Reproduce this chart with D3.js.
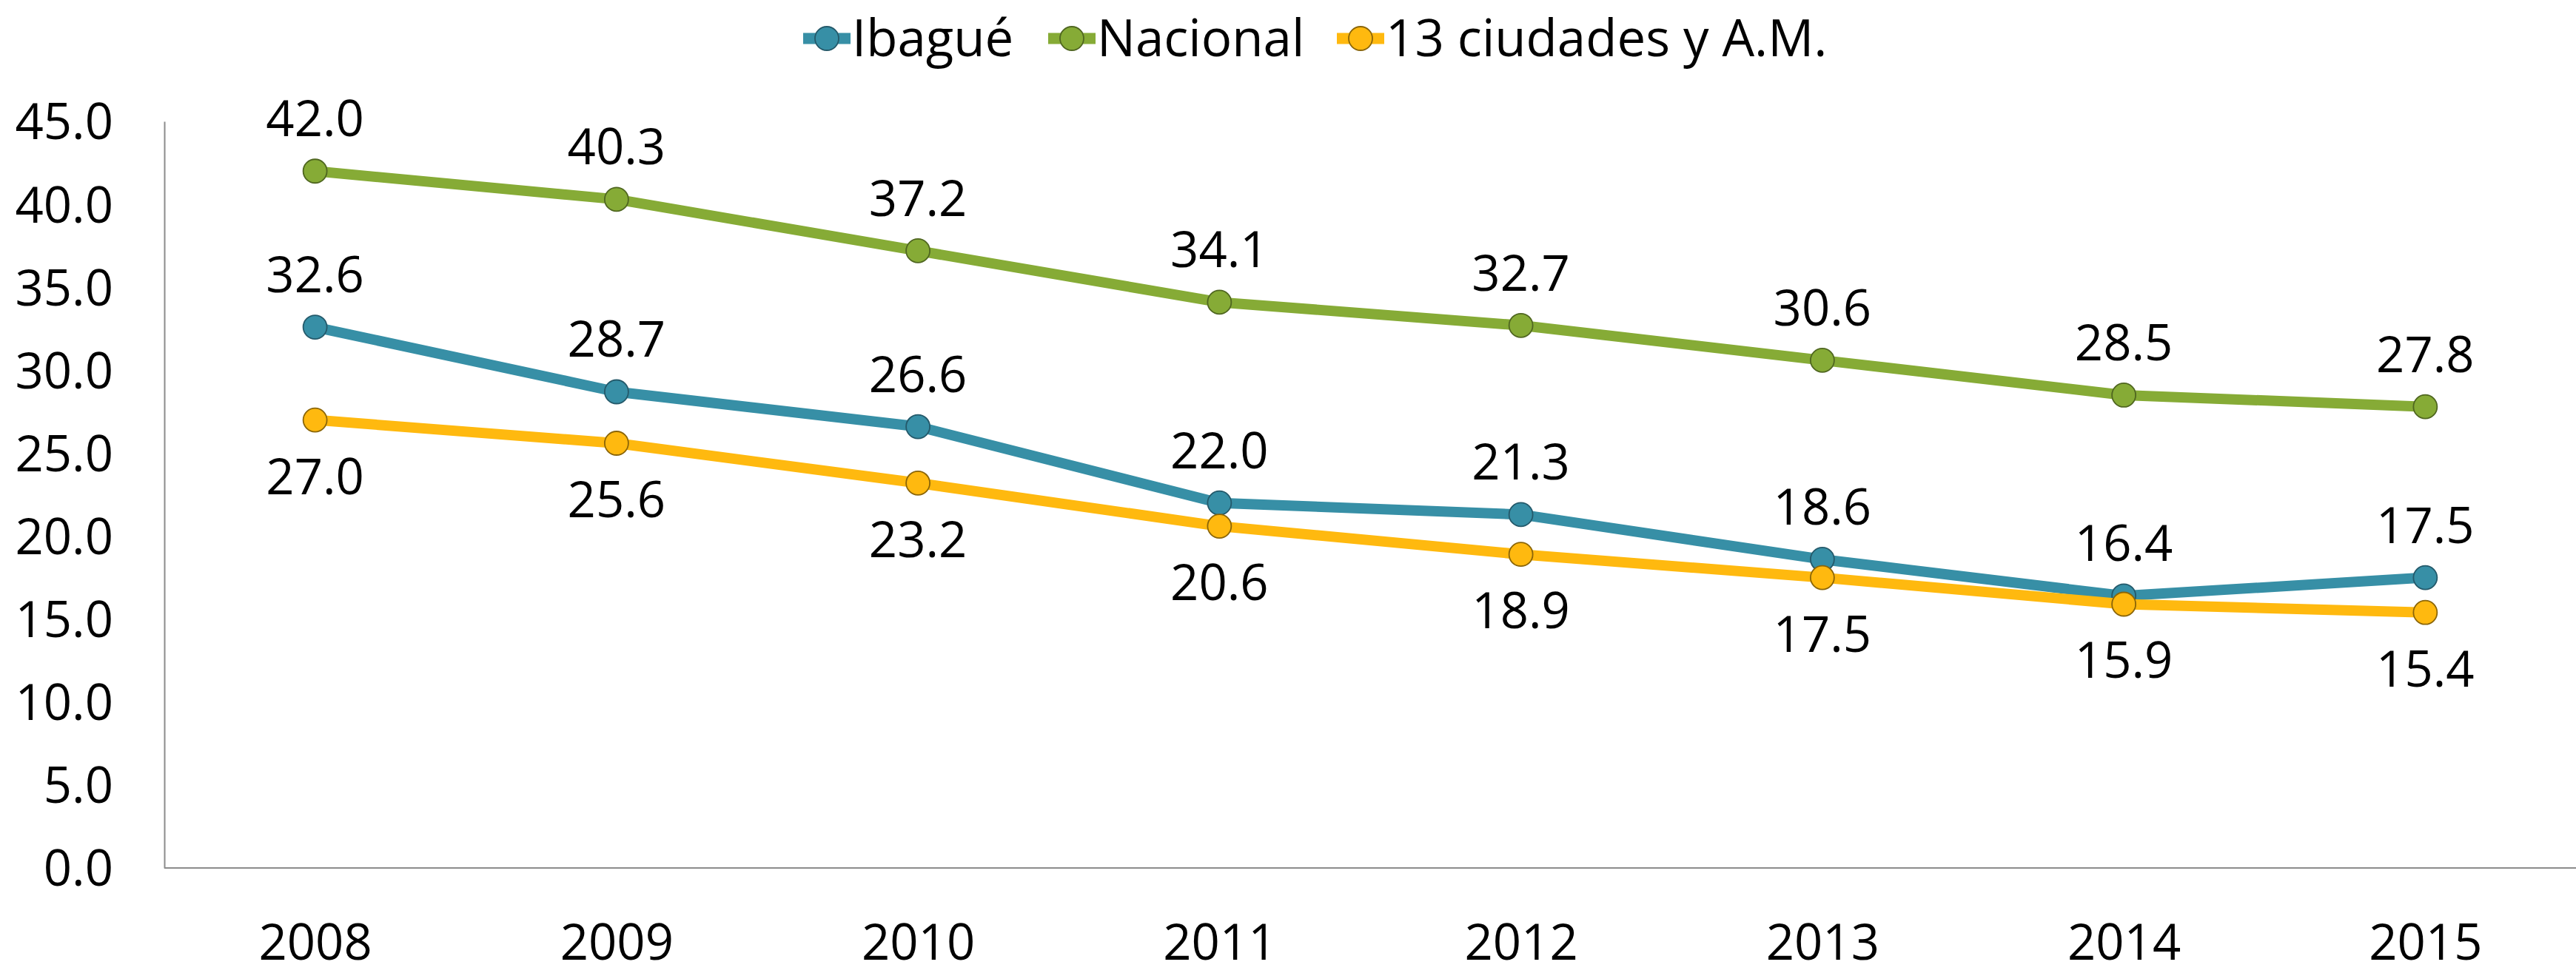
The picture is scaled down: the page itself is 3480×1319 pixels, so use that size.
<!DOCTYPE html>
<html>
<head>
<meta charset="utf-8">
<script src="https://cdn.jsdelivr.net/npm/d3@7"></script>
<style>
  body { margin: 0; background: #fff; }
  text { font-family: "Open Sans", "Noto Sans", sans-serif; fill: #000; }
</style>
</head>
<body>
<script>
(function() {
  'use strict';

  const years = ['2008', '2009', '2010', '2011', '2012', '2013', '2014', '2015'];
  const ibague = [32.6, 28.7, 26.6, 22.0, 21.3, 18.6, 16.4, 17.5];
  const nacional = [42.0, 40.3, 37.2, 34.1, 32.7, 30.6, 28.5, 27.8];
  const ciudades = [27.0, 25.6, 23.2, 20.6, 18.9, 17.5, 15.9, 15.4];
  const yTicks = [0, 5, 10, 15, 20, 25, 30, 35, 40, 45];

  const series = [
    { name: 'Ibagué', values: ibague, color: '#378FA6', edge: '#24596a', labelPos: 'above' },
    { name: 'Nacional', values: nacional, color: '#86AB36', edge: '#4f6620', labelPos: 'above' },
    { name: '13 ciudades y A.M.', values: ciudades, color: '#FFB90F', edge: '#8a6508', labelPos: 'below' }
  ];

  const w = 3480;
  const h = 1319;
  const left = 222;
  const right = 3480;
  const top = 164;
  const bottom = 1173;
  const fontSize = 67;

  const svg = d3.select('body')
    .append('svg')
    .attr('width', w)
    .attr('height', h);

  // scales
  const xScale = d3.scalePoint()
    .domain(years)
    .range([left, right])
    .padding(0.5);

  const yScale = d3.scaleLinear()
    .domain([0, 45])
    .range([bottom, top]);

  // y axis
  const yAxis = d3.axisLeft(yScale)
    .tickValues(yTicks)
    .tickSize(0)
    .tickPadding(69)
    .tickFormat(d3.format('.1f'));
  const gy = svg.append('g')
    .attr('transform', 'translate(' + left + ',0)')
    .call(yAxis);
  gy.select('.domain').attr('stroke', '#8c8c8c').attr('stroke-width', 2);
  gy.selectAll('text')
    .attr('font-size', fontSize)
    .attr('font-family', '"Open Sans", sans-serif')
    .attr('dy', '0.357em');

  // x axis
  const xAxis = d3.axisBottom(xScale).tickSize(0).tickPadding(0);
  const gx = svg.append('g')
    .attr('transform', 'translate(0,' + bottom + ')')
    .call(xAxis);
  gx.select('.domain').attr('stroke', '#8c8c8c').attr('stroke-width', 2)
    .attr('d', 'M' + left + ',0H' + right);
  gx.selectAll('text')
    .attr('font-size', fontSize)
    .attr('font-family', '"Open Sans", sans-serif')
    .attr('y', 124)
    .attr('dy', 0);

  const line = d3.line()
    .x((d, i) => xScale(years[i]))
    .y(d => yScale(d));

  // lines and markers
  series.forEach(function(s) {
    const g = svg.append('g');
    g.append('path')
      .datum(s.values)
      .attr('d', line)
      .attr('fill', 'none')
      .attr('stroke', s.color)
      .attr('stroke-width', 14)
      .attr('stroke-linejoin', 'round');

    g.selectAll('circle')
      .data(s.values)
      .enter()
      .append('circle')
      .attr('cx', (d, i) => xScale(years[i]))
      .attr('cy', d => yScale(d))
      .attr('r', 16)
      .attr('fill', s.color)
      .attr('stroke', s.edge)
      .attr('stroke-width', 1.8);
  });

  // data labels
  series.forEach(function(s) {
    svg.append('g')
      .selectAll('text')
      .data(s.values)
      .enter()
      .append('text')
      .attr('x', (d, i) => xScale(years[i]))
      .attr('y', d => yScale(d) + (s.labelPos === 'above' ? -47 : 100))
      .attr('text-anchor', 'middle')
      .attr('font-size', fontSize)
      .text(d => d3.format('.1f')(d));
  });

  // legend
  const legendX = [1117, 1448, 1838];
  const legend = svg.append('g');
  series.forEach(function(s, i) {
    const cx = legendX[i];
    legend.append('line')
      .attr('x1', cx - 32).attr('x2', cx + 32)
      .attr('y1', 52).attr('y2', 52)
      .attr('stroke', s.color)
      .attr('stroke-width', 15);
    legend.append('circle')
      .attr('cx', cx).attr('cy', 52)
      .attr('r', 16)
      .attr('fill', s.color)
      .attr('stroke', s.edge)
      .attr('stroke-width', 1.8);
    legend.append('text')
      .attr('x', cx + 34)
      .attr('y', 76)
      .attr('font-size', 69)
      .text(s.name);
  });
}());
</script>
</body>
</html>
